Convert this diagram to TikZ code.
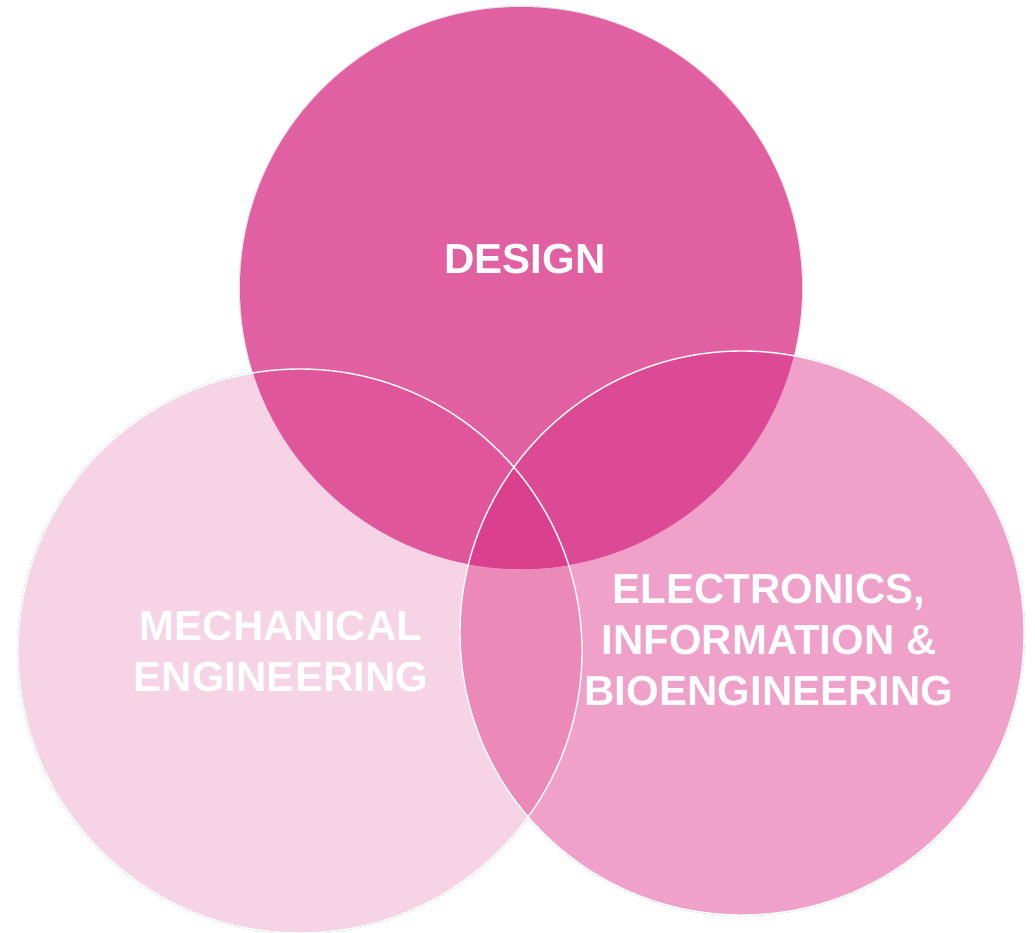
\documentclass[tikz,border=0pt]{standalone}
\usepackage{fontspec}
\setmainfont{Liberation Sans}
\definecolor{cD}{HTML}{E160A2}
\definecolor{cM}{HTML}{F6D3E5}
\definecolor{cE}{HTML}{EFA1C9}
\definecolor{cDM}{HTML}{E0569A}
\definecolor{cDE}{HTML}{DC4A96}
\definecolor{cDME}{HTML}{DA408E}
\definecolor{cME}{HTML}{EB89B9}
\tikzset{
  lbl/.style={text=white, font=\fontsize{42}{51}\selectfont\bfseries, align=center, inner sep=0pt},
  edge/.style={draw=black!10, line width=2.6pt},
  rim/.style={draw=white, line width=1.4pt}
}
\begin{document}
\begin{tikzpicture}[x=1pt,y=-1pt]
\useasboundingbox (0,0) rectangle (1035,933);
\coordinate (D) at (521,288);
\coordinate (M) at (300,651);
\coordinate (E) at (742,633);
\def\rD{281}\def\rM{282}\def\rE{282}
% faint outer edges
\path[edge] (D) circle (\rD);
\path[edge] (M) circle (\rM);
\path[edge] (E) circle (\rE);
% fills
\fill[cD] (D) circle (\rD);
\fill[cM] (M) circle (\rM);
\fill[cE] (E) circle (\rE);
\begin{scope}
  \clip (M) circle (\rM);
  \fill[cME] (E) circle (\rE);
\end{scope}
\begin{scope}
  \clip (D) circle (\rD);
  \fill[cDM] (M) circle (\rM);
  \fill[cDE] (E) circle (\rE);
  \clip (M) circle (\rM);
  \fill[cDME] (E) circle (\rE);
\end{scope}
% white rims
\path[rim] (M) circle (\rM);
\path[rim] (E) circle (\rE);
% labels
\node[lbl] (design) at (525,259) {DESIGN};
\node[lbl] (mech) at (281,652) {MECHANICAL\\ENGINEERING};
\node[lbl] (elec) at (769,640) {ELECTRONICS,\\INFORMATION \&\\BIOENGINEERING};
\end{tikzpicture}
\end{document}
